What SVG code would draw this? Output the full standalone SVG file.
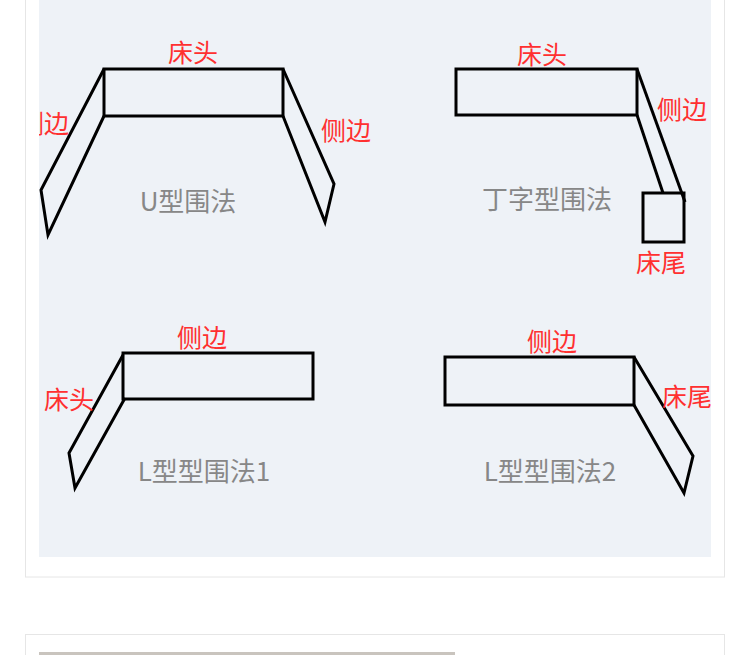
<svg xmlns="http://www.w3.org/2000/svg" width="750" height="655" viewBox="0 0 750 655">
<defs>
<style>
.shape{fill:none;stroke:#000;stroke-width:3;stroke-linejoin:miter}
.lbl{font-family:"Noto Sans CJK SC","Noto Sans",sans-serif;font-size:25px;fill:#ff3030}
.cap{font-family:"Noto Sans CJK SC","Noto Sans",sans-serif;font-size:26px;fill:#878787}
.card{fill:#fff;stroke:#e6e6e6;stroke-width:1}
</style>
<clipPath id="panelClip"><rect x="39" y="0" width="672" height="557"/></clipPath>
</defs>
<rect x="0" y="0" width="750" height="655" fill="#fff"/>
<rect class="card" x="25.5" y="-5" width="699" height="582"/>
<rect class="card" x="25.5" y="634.5" width="699" height="30"/>
<rect x="39" y="652" width="416" height="3" fill="#c9c4be"/>
<rect x="39" y="0" width="672" height="557" fill="#eef2f7"/>
<g clip-path="url(#panelClip)">
<g id="u-shape">
<rect class="shape" x="104" y="69" width="179" height="47"/>
<polyline class="shape" points="104,69 41,190 48,235 104,116"/>
<polyline class="shape" points="283,69 334,184 325,222 283,116"/>
<text class="lbl" x="193" y="62" text-anchor="middle">床头</text>
<text class="lbl" x="69" y="133" text-anchor="end">侧边</text>
<text class="lbl" x="346" y="140" text-anchor="middle">侧边</text>
<text class="cap" x="188" y="211" text-anchor="middle">U型围法</text>
</g>
<g id="t-shape">
<rect class="shape" x="456" y="69" width="181" height="46"/>
<line class="shape" x1="637" y1="69" x2="685" y2="202"/>
<line class="shape" x1="637" y1="115" x2="663" y2="193"/>
<rect class="shape" x="643" y="193" width="41" height="49"/>
<text class="lbl" x="542" y="64" text-anchor="middle">床头</text>
<text class="lbl" x="657" y="119" text-anchor="start">侧边</text>
<text class="lbl" x="661" y="272" text-anchor="middle">床尾</text>
<text class="cap" x="547" y="209" text-anchor="middle">丁字型围法</text>
</g>
<g id="l-shape-1">
<rect class="shape" x="123" y="353" width="190" height="46"/>
<polyline class="shape" points="123,355 69,453 75,488 125,398"/>
<text class="lbl" x="202" y="347" text-anchor="middle">侧边</text>
<text class="lbl" x="69" y="409" text-anchor="middle">床头</text>
<text class="cap" x="204" y="481" text-anchor="middle">L型型围法1</text>
</g>
<g id="l-shape-2">
<rect class="shape" x="445" y="357" width="189" height="48"/>
<polyline class="shape" points="634,357 693,456 684,493 634,405"/>
<text class="lbl" x="552" y="351" text-anchor="middle">侧边</text>
<text class="lbl" x="662" y="406" text-anchor="start">床尾</text>
<text class="cap" x="550" y="481" text-anchor="middle">L型型围法2</text>
</g>
</g>
<g id="connectors"/>
</svg>
